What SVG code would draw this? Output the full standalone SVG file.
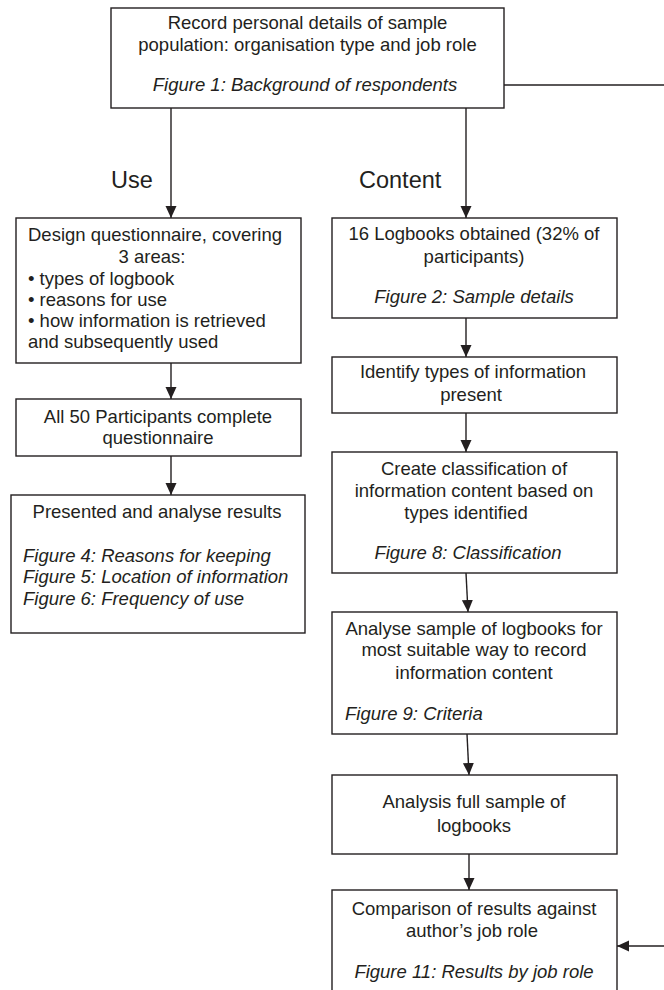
<svg xmlns="http://www.w3.org/2000/svg" width="664" height="990" viewBox="0 0 664 990">
<style>
.box{fill:#fff;stroke:#231f20;stroke-width:1.4}
.t{font-family:"Liberation Sans",Arial,sans-serif;font-size:18.5px;fill:#231f20}
.c{text-anchor:middle}
.i{font-style:italic}
.lbl{font-family:"Liberation Sans",Arial,sans-serif;font-size:23.5px;fill:#231f20}
.ln{fill:none;stroke:#231f20;stroke-width:1.4;marker-end:url(#ah)}
.pl{fill:none;stroke:#231f20;stroke-width:1.4}
</style>
<defs>
<marker id="ah" markerUnits="userSpaceOnUse" markerWidth="12" markerHeight="12" viewBox="0 0 12 12" refX="12" refY="6" orient="auto">
<path d="M0,0.5 L12,6 L0,11.5 z" fill="#231f20"/>
</marker>
</defs>
<rect width="664" height="990" fill="#fff"/>
<g id="connectors">
<line class="ln" x1="171" y1="108" x2="171" y2="218"/>
<line class="ln" x1="466" y1="108" x2="466" y2="218"/>
<line class="ln" x1="171" y1="363" x2="171" y2="399"/>
<line class="ln" x1="171" y1="456" x2="171" y2="495"/>
<line class="ln" x1="466" y1="318" x2="466" y2="357"/>
<line class="ln" x1="466" y1="413" x2="466" y2="452"/>
<line class="ln" x1="466" y1="573" x2="468" y2="612"/>
<line class="ln" x1="467" y1="734" x2="469" y2="775"/>
<line class="ln" x1="469" y1="854" x2="469" y2="890"/>
<line class="pl" x1="504" y1="85" x2="664" y2="85"/>
<line class="ln" x1="664" y1="946" x2="617" y2="946"/>
</g>
<g id="n0">
<rect class="box" x="111" y="8" width="393" height="100"/>
<text class="t c" x="307.5" y="29">Record personal details of sample</text>
<text class="t c" x="307.5" y="51">population: organisation type and job role</text>
<text class="t c i" x="305" y="91">Figure 1: Background of respondents</text>
</g>
<g id="lbl-use"><text class="lbl" x="111" y="188">Use</text></g>
<g id="lbl-content"><text class="lbl" x="359" y="188">Content</text></g>
<g id="n1">
<rect class="box" x="16" y="218" width="285" height="145"/>
<text class="t" x="28" y="241">Design questionnaire, covering</text>
<text class="t c" x="152" y="263">3 areas:</text>
<text class="t" x="28" y="285">• types of logbook</text>
<text class="t" x="28" y="306">• reasons for use</text>
<text class="t" x="28" y="327">• how information is retrieved</text>
<text class="t" x="28" y="348">and subsequently used</text>
</g>
<g id="n2">
<rect class="box" x="16" y="399" width="285" height="57"/>
<text class="t c" x="158" y="423">All 50 Participants complete</text>
<text class="t c" x="158" y="444">questionnaire</text>
</g>
<g id="n3">
<rect class="box" x="11" y="495" width="294" height="138"/>
<text class="t c" x="157" y="518">Presented and analyse results</text>
<text class="t i" x="23" y="562">Figure 4: Reasons for keeping</text>
<text class="t i" x="23" y="583">Figure 5: Location of information</text>
<text class="t i" x="23" y="605">Figure 6: Frequency of use</text>
</g>
<g id="n4">
<rect class="box" x="332" y="218" width="285" height="100"/>
<text class="t c" x="474" y="240">16 Logbooks obtained (32% of</text>
<text class="t c" x="474" y="263">participants)</text>
<text class="t c i" x="474" y="303">Figure 2: Sample details</text>
</g>
<g id="n5">
<rect class="box" x="332" y="357" width="285" height="56"/>
<text class="t c" x="473" y="378">Identify types of information</text>
<text class="t c" x="471" y="401">present</text>
</g>
<g id="n6">
<rect class="box" x="332" y="452" width="285" height="121"/>
<text class="t c" x="474" y="475">Create classification of</text>
<text class="t c" x="474" y="497">information content based on</text>
<text class="t c" x="466" y="519">types identified</text>
<text class="t c i" x="468" y="559">Figure 8: Classification</text>
</g>
<g id="n7">
<rect class="box" x="332" y="612" width="285" height="122"/>
<text class="t c" x="474" y="635">Analyse sample of logbooks for</text>
<text class="t c" x="474" y="656">most suitable way to record</text>
<text class="t c" x="474" y="679">information content</text>
<text class="t i" x="345" y="720">Figure 9: Criteria</text>
</g>
<g id="n8">
<rect class="box" x="332" y="775" width="285" height="79"/>
<text class="t c" x="474" y="808">Analysis full sample of</text>
<text class="t c" x="474" y="832">logbooks</text>
</g>
<g id="n9">
<rect class="box" x="332" y="890" width="285" height="110"/>
<text class="t c" x="474" y="915">Comparison of results against</text>
<text class="t c" x="472" y="937">author’s job role</text>
<text class="t c i" x="474" y="978">Figure 11: Results by job role</text>
</g>
</svg>
